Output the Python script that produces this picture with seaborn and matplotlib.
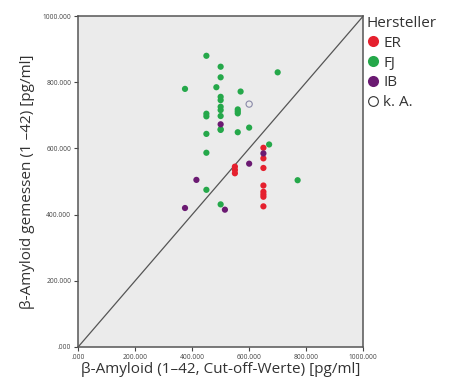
import numpy as np
import pandas as pd
import matplotlib
matplotlib.use("Agg")
import matplotlib.pyplot as plt
from matplotlib.lines import Line2D
import seaborn as sns

# Cut-off values (x) and measured values (y), per manufacturer
er_x = [550, 550, 550, 650, 650, 650, 650, 650, 650, 650, 650]
er_y = [545, 535, 525, 602, 570, 541, 488, 469, 461, 454, 425]

fj_x = [450, 500, 500, 375, 485, 570, 700, 500, 500, 500, 500, 500, 500,
        450, 450, 450, 450, 450, 500, 560, 560, 560, 560, 600, 670, 770, 500]
fj_y = [880, 847, 815, 780, 785, 772, 830, 756, 746, 726, 716, 698, 658,
        705, 697, 644, 587, 475, 431, 718, 712, 706, 649, 663, 612, 504, 656]

ib_x = [500, 600, 415, 375, 515, 650]
ib_y = [673, 554, 505, 420, 415, 585]

ka_x = [600]
ka_y = [734]

hersteller = ["ER", "FJ", "IB"]
farben = {"ER": "#e5202e", "FJ": "#25a84a", "IB": "#6b1a72"}

df = pd.DataFrame({
    "cutoff": er_x + fj_x + ib_x,
    "gemessen": er_y + fj_y + ib_y,
    "Hersteller": ["ER"] * len(er_x) + ["FJ"] * len(fj_x) + ["IB"] * len(ib_x),
})
df_ka = pd.DataFrame({"cutoff": ka_x, "gemessen": ka_y})

sns.set_style("white")
plt.rcParams["font.family"] = ["Open Sans", "DejaVu Sans"]

fig = plt.figure(figsize=(4.54, 3.83), dpi=100)
ax = fig.add_axes([0.172, 0.094, 0.628, 0.864])
ax.set_facecolor("#ebebeb")

ax.plot([0, 1000], [0, 1000], color="#555555", lw=0.9, zorder=1)

sns.scatterplot(data=df, x="cutoff", y="gemessen", hue="Hersteller",
                hue_order=hersteller, palette=farben, s=20, edgecolor="none",
                legend=False, ax=ax, zorder=3)
sns.scatterplot(data=df_ka, x="cutoff", y="gemessen", s=20, marker="o",
                facecolor="none", edgecolor="#8a8aa8", linewidth=0.8,
                legend=False, ax=ax, zorder=3)

ax.set_xlim(0, 1000)
ax.set_ylim(0, 1000)
ticks = [0, 200, 400, 600, 800, 1000]
labels = [".000", "200.000", "400.000", "600.000", "800.000", "1000.000"]
ax.set_xticks(ticks)
ax.set_xticklabels(labels)
ax.set_yticks(ticks)
ax.set_yticklabels(labels)
ax.tick_params(axis="both", labelsize=4.8, labelcolor="#444444", length=3,
               width=0.8, color="#444444", direction="out", pad=2,
               bottom=True, left=True)
for sp in ax.spines.values():
    sp.set_color("#555555")
    sp.set_linewidth(1.1)

ax.set_xlabel("β-Amyloid (1–42, Cut-off-Werte) [pg/ml]", fontsize=11,
              color="#333333", labelpad=1)
ax.set_ylabel("β-Amyloid gemessen (1 –42) [pg/ml]", fontsize=11,
              color="#333333", labelpad=5)

handles = [Line2D([], [], marker="o", ls="", markersize=8,
                  markerfacecolor=farben[h], markeredgecolor="none", label=h)
           for h in hersteller]
handles.append(Line2D([], [], marker="o", ls="", markersize=7,
                      markerfacecolor="none", markeredgecolor="#333333",
                      markeredgewidth=0.8, label="k. A."))
leg = ax.legend(handles=handles, title="Hersteller", loc="upper left",
                bbox_to_anchor=(1.0, 1.01), frameon=False, fontsize=11,
                title_fontsize=11, handletextpad=0.2, borderpad=0.2,
                labelspacing=0.32, handlelength=0.9, borderaxespad=0.0)
leg._legend_box.align = "left"
for t in leg.get_texts():
    t.set_color("#333333")
leg.get_title().set_color("#333333")

fig.savefig("out.png", dpi=100, facecolor="white")
